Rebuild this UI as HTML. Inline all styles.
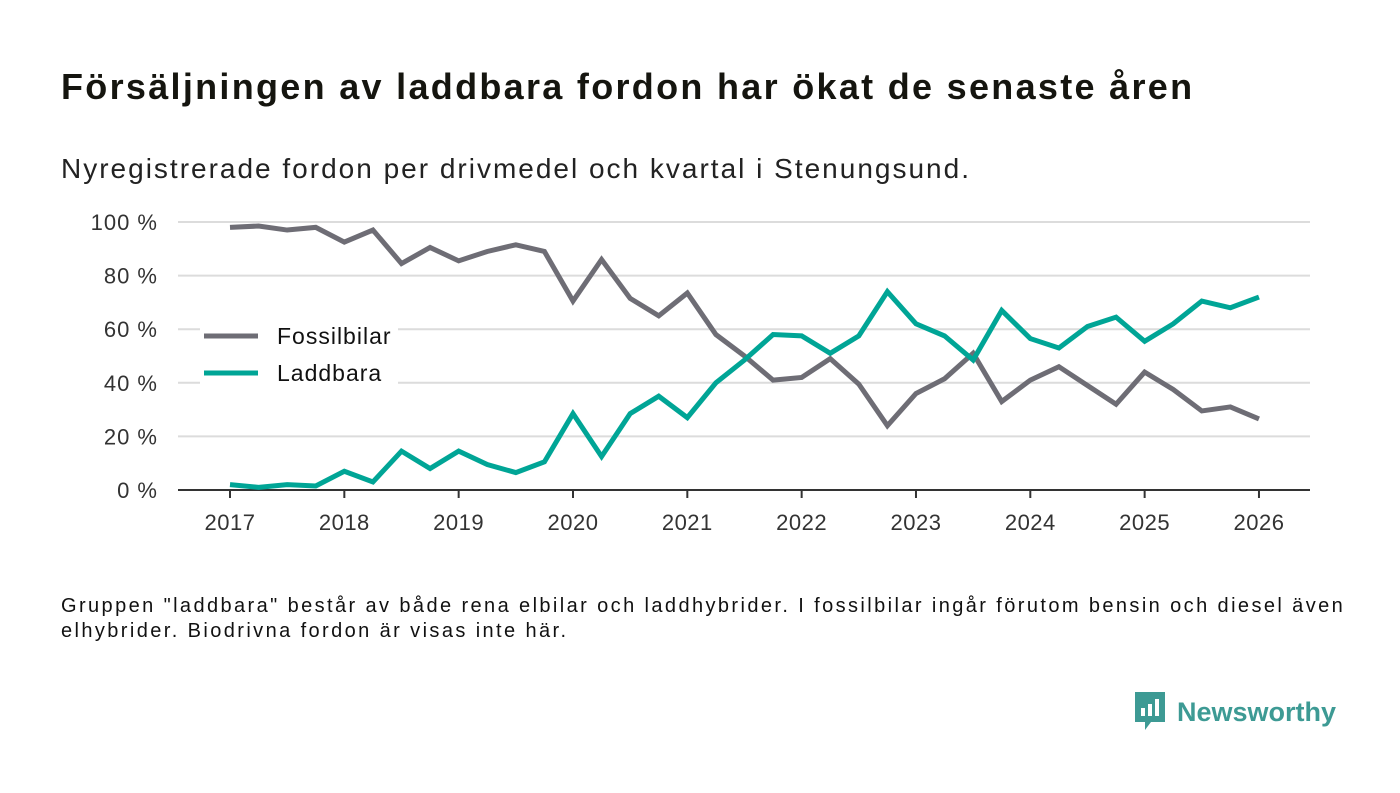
<!DOCTYPE html>
<html><head><meta charset="utf-8"><style>
body{margin:0;width:1400px;height:793px;background:#fff;font-family:"Liberation Sans","DejaVu Sans",sans-serif;overflow:hidden;position:relative;color:#111}
h1{position:absolute;left:61px;top:66px;margin:0;font-size:36px;font-weight:bold;color:#15150f;letter-spacing:2.3px;white-space:nowrap}
.sub{position:absolute;left:61px;top:153px;font-size:28px;color:#222;letter-spacing:2px;white-space:nowrap}
.note{position:absolute;left:61px;top:594px;font-size:20px;line-height:25px;color:#111;letter-spacing:2.4px;white-space:nowrap}
.logo{position:absolute;left:1133px;top:692px;display:flex;align-items:center}
.logo span{font-size:27px;font-weight:bold;color:#3d9a94;margin-left:10px}
</style></head><body>
<h1>Försäljningen av laddbara fordon har ökat de senaste åren</h1>
<div class="sub">Nyregistrerade fordon per drivmedel och kvartal i Stenungsund.</div>
<svg id="chart" width="1400" height="560" style="position:absolute;left:0;top:0"></svg>
<div class="note">Gruppen "laddbara" består av både rena elbilar och laddhybrider. I fossilbilar ingår förutom bensin och diesel även<br>elhybrider. Biodrivna fordon är visas inte här.</div>
<div class="logo">
<svg width="34" height="40" viewBox="0 0 34 40"><path d="M2 0h30v30H18l-6 8v-8H2z" fill="#3d9a94"/><rect x="8" y="16" width="4" height="8" fill="#fff"/><rect x="15" y="12" width="4" height="12" fill="#fff"/><rect x="22" y="7" width="4" height="17" fill="#fff"/></svg>
<span>Newsworthy</span></div>
<script>
const yearTicks=[2017,2018,2019,2020,2021,2022,2023,2024,2025,2026];
const yTicks=[0,20,40,60,80,100];
const fossil=[98,98.5,97,98,92.5,97,84.5,90.5,85.5,89,91.5,89,70.5,86,71.5,65,73.5,58,50,41,42,49,39.5,24,36,41.5,51,33,41,46,39,32,44,37.5,29.5,31,26.5];
const laddbara=[2,1,2,1.5,7,3,14.5,8,14.5,9.5,6.5,10.5,28.5,12.5,28.5,35,27,40,48.5,58,57.5,51,57.5,74,62,57.5,48.5,67,56.5,53,61,64.5,55.5,62,70.5,68,72];
const NS='http://www.w3.org/2000/svg';
const svg=document.getElementById('chart');
const x=t=>230+(t-2017)*114.33;
const y=v=>490-v*2.68;
function mk(tag,attrs){const e=document.createElementNS(NS,tag);for(const k in attrs)e.setAttribute(k,attrs[k]);svg.appendChild(e);return e;}
yTicks.forEach(v=>{
 if(v>0){const g=mk('line',{x1:178,x2:1310,y1:y(v),y2:y(v),stroke:'#dcdcdc','stroke-width':2});
 
 }
 const t=mk('text',{x:158,y:y(v)+8,'text-anchor':'end','font-size':22,fill:'#333','letter-spacing':1});t.textContent=v+' %';
 
 
});
const ax=mk('line',{x1:178,x2:1310,y1:490,y2:490,stroke:'#333','stroke-width':2});


yearTicks.forEach(yr=>{
 const tk=mk('line',{x1:x(yr),x2:x(yr),y1:490,y2:498,stroke:'#333','stroke-width':2});
 
 
 const t=mk('text',{x:x(yr),y:530,'text-anchor':'middle','font-size':22,fill:'#333','letter-spacing':0.5});t.textContent=yr;
 
 
});
function series(arr,color,name){
 const p=mk('polyline',{points:arr.map((v,i)=>x(2017+i/4)+','+y(v)).join(' '),fill:'none',stroke:color,'stroke-width':5,'stroke-linejoin':'miter'});
 
 
}
series(fossil,'#6e6d75','fossilbilar-line');
series(laddbara,'#00a596','laddbara-line');
mk('rect',{x:200,y:318,width:198,height:74,fill:'#fff'});
[['Fossilbilar','#6e6d75',336],['Laddbara','#00a596',373]].forEach(([n,c,yy])=>{
 const l=mk('line',{x1:204,x2:258,y1:yy,y2:yy,stroke:c,'stroke-width':5});
 
 
 const t=mk('text',{x:277,y:yy+8,'font-size':23,fill:'#111','letter-spacing':1});t.textContent=n;
 
 
});
</script>
</body></html>
